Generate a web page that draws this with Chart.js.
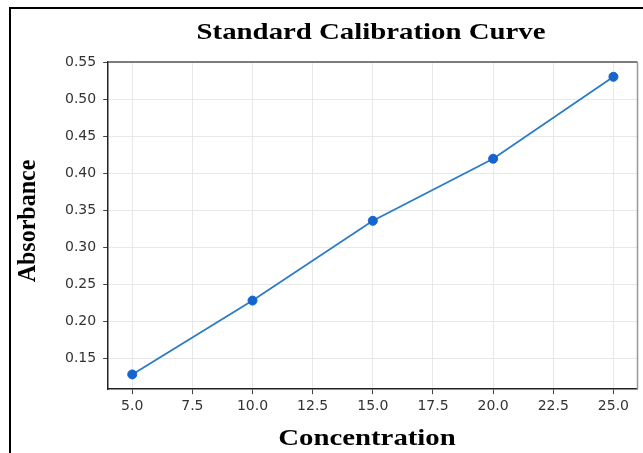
<!DOCTYPE html>
<html>
<head>
<meta charset="utf-8">
<script src="https://cdn.jsdelivr.net/npm/chart.js@4/dist/chart.umd.min.js"></script>
<style>
html,body{margin:0;padding:0;background:#fff;}
#wrap{position:relative;width:643px;height:453px;}
canvas{display:block;}
</style>
</head>
<body>
<div id="wrap"><canvas id="c" width="643" height="453"></canvas></div>
<script>
const chartTitle = "Standard Calibration Curve";
const xAxisTitle = "Concentration";
const yAxisTitle = "Absorbance";
const concentration = [5, 10, 15, 20, 25];
const absorbance = [0.128, 0.228, 0.336, 0.420, 0.531];
const xTickValues = [5, 7.5, 10, 12.5, 15, 17.5, 20, 22.5, 25];
const yTickValues = [0.15, 0.20, 0.25, 0.30, 0.35, 0.40, 0.45, 0.50, 0.55];

const points = concentration.map((c, i) => ({x: c, y: absorbance[i]}));
const serifBold = 'bold 24px "Liberation Serif", "Times New Roman", serif';

const framePlugin = {
  id: 'frame',
  beforeDraw(chart) {
    const ctx = chart.ctx;
    ctx.save();
    ctx.fillStyle = '#fff';
    ctx.fillRect(0, 0, chart.width, chart.height);
    ctx.strokeStyle = '#000';
    ctx.lineWidth = 2;
    ctx.beginPath();
    ctx.moveTo(10, chart.height);
    ctx.lineTo(10, 8);
    ctx.lineTo(chart.width, 8);
    ctx.stroke();
    ctx.restore();
  },
  afterDatasetsDraw(chart) {
    const a = chart.chartArea;
    const ctx = chart.ctx;
    ctx.save();
    ctx.lineWidth = 1.5;
    ctx.strokeStyle = '#555';
    ctx.beginPath();
    ctx.moveTo(a.left, a.top);
    ctx.lineTo(a.right, a.top);
    ctx.stroke();
    ctx.strokeStyle = '#999';
    ctx.beginPath();
    ctx.moveTo(a.right, a.top);
    ctx.lineTo(a.right, a.bottom);
    ctx.stroke();
    ctx.restore();
  },
  afterDraw(chart) {
    const ctx = chart.ctx;
    ctx.save();
    ctx.fillStyle = '#000';
    ctx.font = serifBold;
    ctx.textAlign = 'center';
    ctx.textBaseline = 'alphabetic';
    ctx.save();
    ctx.translate(371, 39);
    ctx.scale(1.2, 1);
    ctx.fillText(chartTitle, 0, 0);
    ctx.restore();
    ctx.save();
    ctx.translate(367, 445);
    ctx.scale(1.2, 1);
    ctx.fillText(xAxisTitle, 0, 0);
    ctx.restore();
    ctx.save();
    ctx.translate(35, 221);
    ctx.rotate(-Math.PI / 2);
    ctx.scale(1, 1.05);
    ctx.fillText(yAxisTitle, 0, 0);
    ctx.restore();
    ctx.restore();
  }
};

new Chart(document.getElementById('c'), {
  type: 'scatter',
  data: {
    datasets: [{
      data: points,
      showLine: true,
      borderColor: '#2a7cc7',
      borderWidth: 1.8,
      pointRadius: 4.5,
      pointBackgroundColor: '#1565d0',
      pointBorderColor: '#1565d0',
      pointBorderWidth: 1,
      tension: 0
    }]
  },
  options: {
    responsive: false,
    animation: false,
    devicePixelRatio: 1,
    layout: {padding: {top: 62, right: -3, bottom: 34, left: 58}},
    plugins: {legend: {display: false}, tooltip: {enabled: false}, title: {display: false}},
    scales: {
      x: {
        type: 'linear',
        min: 4, max: 26,
        afterBuildTicks(scale) { scale.ticks = xTickValues.map(v => ({value: v})); },
        ticks: {
          color: '#333',
          font: {family: '"DejaVu Sans", sans-serif', size: 14},
          padding: 4,
          maxRotation: 0,
          callback: v => Number(v).toFixed(1)
        },
        grid: {color: '#e8e8e8', lineWidth: 1, tickLength: 5, tickColor: '#444'},
        border: {color: '#222', width: 1.5}
      },
      y: {
        type: 'linear',
        min: 0.108, max: 0.551,
        afterBuildTicks(scale) { scale.ticks = yTickValues.map(v => ({value: v})); },
        ticks: {
          color: '#333',
          font: {family: '"DejaVu Sans", sans-serif', size: 14},
          padding: 7,
          callback: v => Number(v).toFixed(2)
        },
        grid: {color: '#e8e8e8', lineWidth: 1, tickLength: 5, tickColor: '#444'},
        border: {color: '#222', width: 1.5}
      }
    }
  },
  plugins: [framePlugin]
});
</script>
</body>
</html>
